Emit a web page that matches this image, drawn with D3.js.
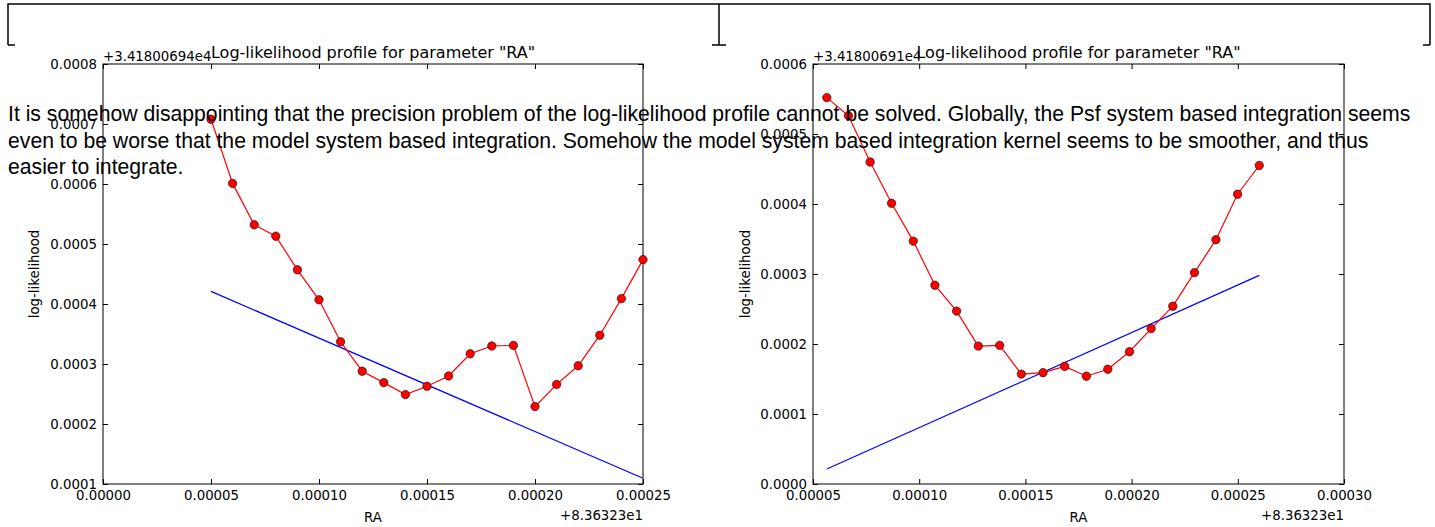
<!DOCTYPE html>
<html>
<head>
<meta charset="utf-8">
<script src="https://cdn.jsdelivr.net/npm/d3@7"></script>
<style>
  body { margin: 0; background: #fff; }
  svg { display: block; }
  .tick line { stroke: #000; }
  .tick text { font-family: "DejaVu Sans", sans-serif; font-size: 13.33px; fill: #000; }
</style>
</head>
<body>
<div id="chart"></div>
<script>
// left panel (model system based integration), offsets from +8.36323e1 / +3.41800694e4
const raLeft = [0.00005, 0.00006, 0.00007, 0.00008, 0.00009, 0.00010, 0.00011, 0.00012, 0.00013, 0.00014,
  0.00015, 0.00016, 0.00017, 0.00018, 0.00019, 0.00020, 0.00021, 0.00022, 0.00023, 0.00024, 0.00025];
const llLeft = [0.000708, 0.000601, 0.000532, 0.000513, 0.000457, 0.000407, 0.000337, 0.000288, 0.000269, 0.000249,
  0.000263, 0.000280, 0.000317, 0.000330, 0.000331, 0.000229, 0.000266, 0.000297, 0.000348, 0.000409, 0.000474];
const fitLeftRa = [0.00005, 0.00025];
const fitLeftLl = [0.000421, 0.0001095];

// right panel (Psf system based integration), offsets from +8.36323e1 / +3.41800691e4
const raRight = [0.0000565, 0.0000667, 0.0000769, 0.0000870, 0.0000972, 0.0001074, 0.0001176, 0.0001278, 0.0001379, 0.0001481,
  0.0001583, 0.0001685, 0.0001787, 0.0001888, 0.0001990, 0.0002092, 0.0002194, 0.0002296, 0.0002397, 0.0002499, 0.0002601];
const llRight = [0.000552, 0.000526, 0.000460, 0.000401, 0.000347, 0.000284, 0.000247, 0.000197, 0.000198, 0.000157,
  0.000159, 0.000168, 0.000154, 0.000164, 0.000189, 0.000222, 0.000254, 0.000302, 0.000349, 0.000414, 0.000455];
const fitRightRa = [0.0000565, 0.0002601];
const fitRightLl = [0.0000214, 0.000298];

const xTicksLeft = [0, 0.00005, 0.00010, 0.00015, 0.00020, 0.00025];
const yTicksLeft = [0.0001, 0.0002, 0.0003, 0.0004, 0.0005, 0.0006, 0.0007, 0.0008];
const xTicksRight = [0.00005, 0.00010, 0.00015, 0.00020, 0.00025, 0.00030];
const yTicksRight = [0, 0.0001, 0.0002, 0.0003, 0.0004, 0.0005, 0.0006];

const titleText = 'Log-likelihood profile for parameter "RA"';
const noteLines = [
  "It is somehow disappointing that the precision problem of the log-likelihood profile cannot be solved. Globally, the Psf system based integration seems",
  "even to be worse that the model system based integration. Somehow the model system based integration kernel seems to be smoother, and thus",
  "easier to integrate."
];

const width = 1435, height = 527;

const svg = d3.select("#chart")
    .append("svg")
    .attr("width", width)
    .attr("height", height)
    .attr("viewBox", [0, 0, width, height]);

// frame pieces at the top of the page
svg.append("path")
    .attr("d", "M8,45V4H1430V45M8,45H15M712,45H726M719,4V45M1423,45H1430")
    .attr("fill", "none")
    .attr("stroke", "#000")
    .attr("stroke-width", 1.5);

function panel(cfg) {
  const { left, right, top, bottom } = cfg;
  const g = svg.append("g");

  const x = d3.scaleLinear().domain(cfg.xDomain).range([left, right]);
  const y = d3.scaleLinear().domain(cfg.yDomain).range([bottom, top]);

  g.append("g")
      .attr("transform", `translate(0,${bottom})`)
      .call(d3.axisBottom(x).tickValues(cfg.xTicks).tickFormat(d3.format(".5f")).tickSize(-5).tickPadding(7))
      .call(a => a.select(".domain").remove());
  g.append("g")
      .attr("transform", `translate(0,${top})`)
      .call(d3.axisTop(x).tickValues(cfg.xTicks).tickFormat("").tickSize(-5))
      .call(a => a.select(".domain").remove());
  g.append("g")
      .attr("transform", `translate(${left},0)`)
      .call(d3.axisLeft(y).tickValues(cfg.yTicks).tickFormat(d3.format(".4f")).tickSize(-5).tickPadding(6))
      .call(a => a.select(".domain").remove());
  g.append("g")
      .attr("transform", `translate(${right},0)`)
      .call(d3.axisRight(y).tickValues(cfg.yTicks).tickFormat("").tickSize(-5))
      .call(a => a.select(".domain").remove());

  g.append("rect")
      .attr("x", left).attr("y", top)
      .attr("width", right - left).attr("height", bottom - top)
      .attr("fill", "none").attr("stroke", "#000").attr("stroke-width", 1);

  const pts = cfg.ra.map((r, i) => [r, cfg.ll[i]]);
  const fit = cfg.fitRa.map((r, i) => [r, cfg.fitLl[i]]);
  const line = d3.line().x(d => x(d[0])).y(d => y(d[1]));

  g.append("path")
      .attr("d", line(fit))
      .attr("fill", "none").attr("stroke", "#0000ff").attr("stroke-width", 1.2);

  g.append("path")
      .attr("d", line(pts))
      .attr("fill", "none").attr("stroke", "#ff0000").attr("stroke-width", 1.2);

  g.append("g")
      .selectAll("circle")
      .data(pts)
      .join("circle")
      .attr("cx", d => x(d[0]))
      .attr("cy", d => y(d[1]))
      .attr("r", 4.2)
      .attr("fill", "#ff0000")
      .attr("stroke", "#000")
      .attr("stroke-width", 0.6);

  const font = "DejaVu Sans, sans-serif";
  g.append("text")
      .attr("x", (left + right) / 2).attr("y", 58)
      .attr("text-anchor", "middle")
      .style("font-family", font).style("font-size", "16px")
      .text(titleText);
  g.append("text")
      .attr("x", left).attr("y", 61)
      .style("font-family", font).style("font-size", "13.33px")
      .text(cfg.yOffset);
  g.append("text")
      .attr("x", (left + right) / 2).attr("y", 522)
      .attr("text-anchor", "middle")
      .style("font-family", font).style("font-size", "13.33px")
      .text("RA");
  g.append("text")
      .attr("x", right).attr("y", 520)
      .attr("text-anchor", "end")
      .style("font-family", font).style("font-size", "13.33px")
      .text("+8.36323e1");
  g.append("text")
      .attr("transform", `translate(${cfg.yLabelX},${(top + bottom) / 2}) rotate(-90)`)
      .attr("text-anchor", "middle")
      .style("font-family", font).style("font-size", "13.33px")
      .text("log-likelihood");
}

panel({
  left: 103, right: 643, top: 64, bottom: 484,
  xDomain: [0, 0.00025], yDomain: [0.0001, 0.0008],
  xTicks: xTicksLeft, yTicks: yTicksLeft,
  ra: raLeft, ll: llLeft, fitRa: fitLeftRa, fitLl: fitLeftLl,
  yOffset: "+3.41800694e4", yLabelX: 39
});

panel({
  left: 813, right: 1344, top: 64, bottom: 484,
  xDomain: [0.00005, 0.0003], yDomain: [0, 0.0006],
  xTicks: xTicksRight, yTicks: yTicksRight,
  ra: raRight, ll: llRight, fitRa: fitRightRa, fitLl: fitRightLl,
  yOffset: "+3.41800691e4", yLabelX: 750
});

// paragraph laid over the charts
svg.append("text")
    .style("font-family", "Liberation Sans, Arial, sans-serif")
    .style("font-size", "21.2px")
    .attr("fill", "#000")
    .selectAll("tspan")
    .data(noteLines)
    .join("tspan")
    .attr("x", 8)
    .attr("y", (d, i) => 121 + i * 26.5)
    .text(d => d);
</script>
</body>
</html>
